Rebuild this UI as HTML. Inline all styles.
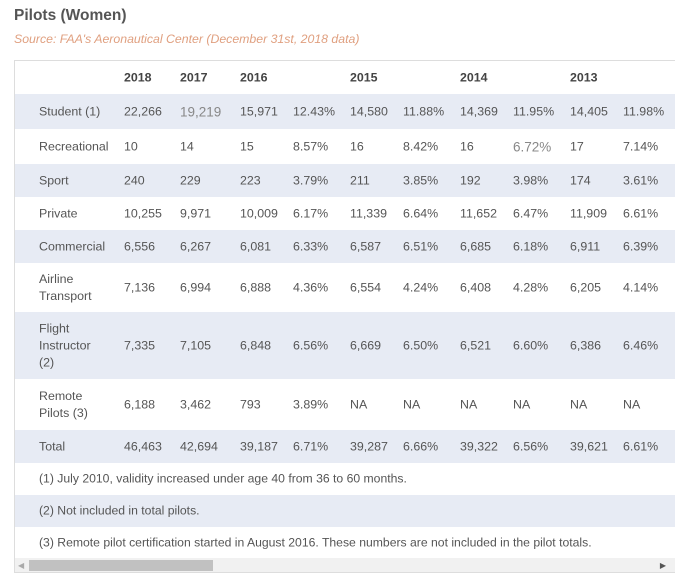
<!DOCTYPE html>
<html><head><meta charset="utf-8"><style>
body{margin:0;width:677px;height:580px;background:#fff;font-family:"Liberation Sans",sans-serif;color:#555;overflow:hidden;position:relative}
.t{position:absolute;white-space:nowrap}
#title{left:14px;top:7px;font-size:15.5px;font-weight:bold;color:#555}
#src{left:14px;top:32px;font-size:12.3px;font-style:italic;color:#e0a080}
#box{position:absolute;left:14px;top:60px;width:661px;height:513px;border:1px solid #ddd;border-right:none;box-sizing:border-box;overflow:hidden}
.row{position:absolute;left:0;width:661px}
.c{position:absolute;font-size:12.4px;white-space:nowrap;line-height:17px}
.h{font-weight:bold;color:#444}
</style></head><body>
<div class="t" id="title">Pilots (Women)</div>
<div class="t" id="src">Source: FAA's Aeronautical Center (December 31st, 2018 data)</div>
<div id="box"></div>
<script>
const headers=["","2018","2017","2016","","2015","","2014","","2013",""];
const labels=[["Student (1)"],["Recreational"],["Sport"],["Private"],["Commercial"],["Airline","Transport"],["Flight","Instructor","(2)"],["Remote","Pilots (3)"],["Total"]];
const values=[
["22,266","19,219","15,971","12.43%","14,580","11.88%","14,369","11.95%","14,405","11.98%"],
["10","14","15","8.57%","16","8.42%","16","6.72%","17","7.14%"],
["240","229","223","3.79%","211","3.85%","192","3.98%","174","3.61%"],
["10,255","9,971","10,009","6.17%","11,339","6.64%","11,652","6.47%","11,909","6.61%"],
["6,556","6,267","6,081","6.33%","6,587","6.51%","6,685","6.18%","6,911","6.39%"],
["7,136","6,994","6,888","4.36%","6,554","4.24%","6,408","4.28%","6,205","4.14%"],
["7,335","7,105","6,848","6.56%","6,669","6.50%","6,521","6.60%","6,386","6.46%"],
["6,188","3,462","793","3.89%","NA","NA","NA","NA","NA","NA"],
["46,463","42,694","39,187","6.71%","39,287","6.66%","39,322","6.56%","39,621","6.61%"]];
const notes=["(1) July 2010, validity increased under age 40 from 36 to 60 months.","(2) Not included in total pilots.","(3) Remote pilot certification started in August 2016. These numbers are not included in the pilot totals."];
const colX=[24,109,165,225,278,335,388,445,498,555,608];
const rowTops=[0,33,68,103,136,169,202,251,318,369,402,434,466,497];
const box=document.getElementById('box');
function mkRow(i,shade){const r=document.createElement('div');r.className='row';r.style.top=rowTops[i]+'px';r.style.height=(rowTops[i+1]-rowTops[i])+'px';r.style.background=shade?'#e7ebf4':'#fff';box.appendChild(r);return r;}
function cell(r,x,txt,cls){const c=document.createElement('div');c.className='c'+(cls?' '+cls:'');c.style.left=x+'px';c.innerHTML=txt;c.style.top='50%';c.style.transform='translateY(-50%)';r.appendChild(c);return c;}
const hr=mkRow(0,false);


headers.forEach((h,j)=>{if(h){const c=cell(hr,colX[j],h,'h');

}});
labels.forEach((lab,i)=>{const r=mkRow(i+1,i%2===0);


cell(r,colX[0],lab.join('<br>'));
values[i].forEach((v,j)=>{const c=cell(r,colX[j+1],v);if((i===0&&j===1)||(i===1&&j===7)){c.style.color='#888';c.style.fontSize='13.5px';}});});
notes.forEach((n,k)=>{const r=mkRow(10+k,k===1);


const c=cell(r,colX[0],n);c.style.fontSize='12.2px';});
const sb=document.createElement('div');


sb.style.cssText='position:absolute;left:0;top:497px;width:661px;height:15px;background:#f1f1f1';
sb.innerHTML='<div style="position:absolute;left:14px;top:2px;width:184px;height:11px;background:#c1c1c1"></div><div style="position:absolute;left:3px;top:3px;font-size:8px;color:#aaa">◀</div><div style="position:absolute;right:10px;top:3px;font-size:8px;color:#555">▶</div>';
box.appendChild(sb);
</script>
</body></html>
